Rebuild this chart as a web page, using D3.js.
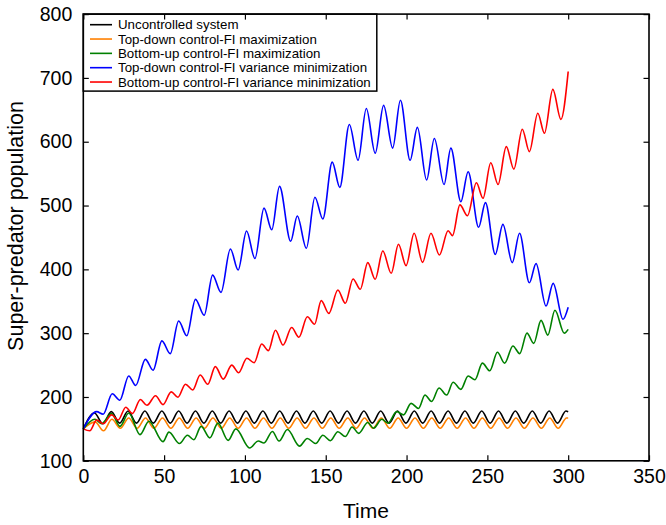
<!DOCTYPE html>
<html><head><meta charset="utf-8">
<script src="https://cdn.jsdelivr.net/npm/d3@7"></script>
<style>
body{margin:0;background:#fff}
svg{display:block}
text{font-family:"Liberation Sans",Arial,Helvetica,sans-serif}
</style>
</head><body>
<svg id="c" width="666" height="525"></svg>
<script>
const xTicks = [0, 50, 100, 150, 200, 250, 300, 350];
const yTicks = [100, 200, 300, 400, 500, 600, 700, 800];
const seriesNames = [
  "Uncontrolled system",
  "Top-down control-FI maximization",
  "Bottom-up control-FI maximization",
  "Top-down control-FI variance minimization",
  "Bottom-up control-FI variance minimization"
];
const seriesColors = ["#000000", "#ff8000", "#008000", "#0000ff", "#ff0000"];

// Uncontrolled system (black)
const tBlack = [0, 6.9, 12.1, 17.3, 22.5, 27.7, 32.9, 38.1, 43.3, 48.6, 53.8, 59.0, 64.2, 69.4, 74.6,
  79.8, 85.0, 90.2, 95.4, 100.6, 105.8, 111.1, 116.3, 121.5, 126.7, 131.9, 137.1, 142.3, 147.5,
  152.7, 157.9, 163.2, 168.4, 173.6, 178.8, 184.0, 189.2, 194.4, 199.6, 204.8, 210.0, 215.2, 220.4,
  225.7, 230.9, 236.1, 241.3, 246.5, 251.7, 256.9, 262.1, 267.3, 272.5, 277.8, 283.0, 288.2, 293.4,
  298.6, 300];
const vBlack = [150, 175, 158, 177, 159, 178, 159, 178, 159, 178, 159, 178, 159, 178, 159,
  178, 159, 178, 159, 178, 159, 178, 159, 178, 159, 178, 159, 178, 159,
  178, 159, 178, 159, 178, 159, 178, 159, 178, 159, 178, 159, 178, 159,
  178, 159, 178, 159, 178, 159, 178, 159, 178, 159, 178, 159, 178, 159,
  178, 177];

// Top-down control-FI maximization (orange)
const tOrange = [0, 7.3, 12.5, 17.7, 22.9, 28.1, 33.3, 38.5, 43.7, 49.0, 54.2, 59.4, 64.6, 69.8, 75.0,
  80.2, 85.4, 90.6, 95.8, 101.0, 106.2, 111.5, 116.7, 121.9, 127.1, 132.3, 137.5, 142.7, 147.9,
  153.1, 158.3, 163.6, 168.8, 174.0, 179.2, 184.4, 189.6, 194.8, 200.0, 205.2, 210.4, 215.6, 220.8,
  226.1, 231.3, 236.5, 241.7, 246.9, 252.1, 257.3, 262.5, 267.7, 272.9, 278.2, 283.4, 288.6, 293.8,
  299.0, 300];
const vOrange = [150, 161, 147, 165, 151, 167, 151, 167, 151, 167, 151, 167, 151, 167, 151,
  167, 151, 167, 151, 167, 151, 167, 151, 167, 151, 167, 151, 167, 151,
  167, 151, 167, 151, 167, 151, 167, 151, 167, 151, 167, 151, 167, 151,
  167, 151, 167, 151, 167, 151, 167, 151, 167, 151, 167, 151, 167, 151,
  167, 167];

// Bottom-up control-FI maximization (green)
const tGreen = [0, 7.2, 11.2, 17.5, 22.7, 28.1, 35.1, 40.6, 49.3, 53.0, 59.5, 64.4, 68.4, 72.9, 78.3,
  83.3, 89.6, 94.4, 102.9, 108.2, 111.8, 117.0, 121.1, 126.3, 133.8, 138.6, 143.8, 148.2, 152.9,
  157.5, 162.1, 166.3, 170.4, 176.0, 179.6, 184.7, 188.5, 193.9, 198.1, 202.8, 207.4, 211.4, 215.5,
  220.1, 224.8, 228.8, 233.6, 238.1, 242.3, 246.9, 251.5, 256.2, 260.7, 265.8, 270.0, 274.5, 278.7,
  283.2, 287.4, 291.8, 297.6, 300];
const vGreen = [150, 165, 158, 174, 154, 175, 141, 162, 130, 145, 127, 140, 133, 154, 136,
  159, 132, 150, 120, 131, 128, 146, 131, 149, 123, 135, 127, 140, 131.5,
  145.6, 138, 153, 143, 160, 151, 165, 159, 177, 172, 190, 182, 203, 193,
  214, 203, 223, 212, 233, 227, 253, 241, 270, 253, 280, 268, 300, 284,
  320, 297, 336, 300, 306];

// Top-down control-FI variance minimization (blue)
const tBlue = [0, 8.3, 12.3, 17.9, 22.6, 28.1, 32.4, 38.4, 43.2, 48.6, 53.8, 59.0, 64.0, 69.4, 74.8,
  80.0, 85.2, 91.0, 95.8, 101.0, 106.2, 111.8, 116.6, 121.4, 128.3, 132.4, 138.0, 143.3, 148.2,
  154.0, 158.7, 164.6, 170.0, 175.1, 180.6, 185.8, 191.4, 196.2, 202.2, 206.7, 212.4, 217.2, 223.2,
  227.4, 233.6, 238.1, 244.6, 248.8, 254.9, 259.6, 265.4, 269.9, 276.0, 280.1, 286.3, 290.7, 296.8,
  300];
const vBlue = [150, 177, 173, 205, 195, 233, 218, 259, 242, 288, 268, 319, 296, 353, 328,
  391, 364, 432, 399, 460, 417, 496, 462, 530, 444, 483.5, 433, 513, 479,
  568, 528.5, 627, 571, 652, 582, 657, 590, 665, 571, 622.5, 540, 605, 533,
  590, 506, 553, 466, 504.5, 423.5, 470.5, 410.5, 456.5, 379, 409, 342.5, 378, 321.7,
  340.5];

// Bottom-up control-FI variance minimization (red)
const tRed = [0, 4.0, 8.3, 12.3, 17.5, 21.6, 26.3, 30.4, 35.3, 39.4, 44.7, 49.3, 54.4, 58.5, 63.2,
  67.7, 72.3, 77.0, 81.7, 86.6, 91.8, 96.1, 101.2, 105.7, 110.4, 114.5, 118.9, 123.6, 128.9,
  133.4, 138.6, 143.1, 147.2, 151.9, 157.5, 162.1, 166.9, 171.4, 176.0, 180.6, 185.3, 190.5, 195.0,
  199.7, 204.7, 209.9, 215.1, 220.3, 225.7, 228.4, 233.0, 237.7, 243.2, 247.3, 252.1, 256.6, 261.7,
  266.4, 271.6, 276.0, 281.2, 285.3, 290.5, 295.5, 300];
const vRed = [150, 147, 164, 158, 172, 164, 184, 174, 196, 187, 202, 188, 208, 199.5, 220,
  211, 234.5, 220, 247.5, 228, 250, 238, 260.6, 253.7, 283, 272.6, 304.5, 281.5, 309,
  293.5, 325.8, 314, 351, 331, 367.7, 346.8, 385, 368.8, 410.5, 384.5, 428.8, 393.8, 439.3,
  405.8, 456.5, 411, 456.5, 422.6, 460.6, 452.8, 501, 484, 535.8, 511.4, 567, 533, 592.3,
  557, 619.6, 584.5, 644.6, 613.3, 682, 635, 710];

const svg = d3.select("#c");
svg.append("rect").attr("width", 666).attr("height", 525).attr("fill", "#fff");

const x = d3.scaleLinear().domain([0, 350]).range([83.3, 649]);
const y = d3.scaleLinear().domain([100, 800]).range([460.8, 14.1]);

const series = [
  d3.zip(tBlack, vBlack),
  d3.zip(tOrange, vOrange),
  d3.zip(tGreen, vGreen),
  d3.zip(tBlue, vBlue),
  d3.zip(tRed, vRed)
];

const line = d3.line().x(d => x(d[0])).y(d => y(d[1])).curve(d3.curveMonotoneX);

series.forEach((s, i) => {
  svg.append("path").datum(s)
    .attr("fill", "none")
    .attr("stroke", seriesColors[i])
    .attr("stroke-width", 1.6)
    .attr("stroke-linejoin", "round")
    .attr("d", line);
});

// Legend
const lg = svg.append("g");
lg.append("rect").attr("x", x(0)).attr("y", y(800)).attr("width", 293.5).attr("height", 77)
  .attr("fill", "#fff").attr("stroke", "#000").attr("stroke-width", 1.5);
seriesNames.forEach((n, i) => {
  const cy = 24.7 + i * 14.33;
  lg.append("line").attr("x1", 90).attr("x2", 112).attr("y1", cy).attr("y2", cy)
    .attr("stroke", seriesColors[i]).attr("stroke-width", 1.6);
  lg.append("text").attr("x", 118).attr("y", cy + 4.7).attr("font-size", 13.3)
    .attr("fill", "#000").text(n);
});

// Axes
const fontFam = '"Liberation Sans",Arial,Helvetica,sans-serif';
const gB = svg.append("g").attr("transform", `translate(0,${y(100)})`)
  .call(d3.axisBottom(x).tickValues(xTicks).tickSize(-5.5).tickPadding(8));
const gT = svg.append("g").attr("transform", `translate(0,${y(800)})`)
  .call(d3.axisTop(x).tickValues(xTicks).tickSize(-5.5).tickFormat(""));
const gL = svg.append("g").attr("transform", `translate(${x(0)},0)`)
  .call(d3.axisLeft(y).tickValues(yTicks).tickSize(-5.5).tickPadding(11));
const gR = svg.append("g").attr("transform", `translate(${x(350)},0)`)
  .call(d3.axisRight(y).tickValues(yTicks).tickSize(-5.5).tickFormat(""));
[gB, gT, gL, gR].forEach(g => {
  g.select(".domain").remove();
  g.selectAll(".tick line").attr("stroke", "#000").attr("stroke-width", 1.2);
  g.selectAll("text").attr("font-size", 19.5).attr("font-family", fontFam).attr("fill", "#000");
});

svg.append("rect").attr("x", x(0)).attr("y", y(800))
  .attr("width", x(350) - x(0)).attr("height", y(100) - y(800))
  .attr("fill", "none").attr("stroke", "#000").attr("stroke-width", 1.6);

svg.append("text").attr("x", 366).attr("y", 518).attr("text-anchor", "middle")
  .attr("font-size", 21).attr("fill", "#000").text("Time");
svg.append("text").attr("transform", "translate(23,226) rotate(-90)")
  .attr("text-anchor", "middle").attr("font-size", 21.5).attr("fill", "#000")
  .text("Super-predator population");
</script>
</body></html>
